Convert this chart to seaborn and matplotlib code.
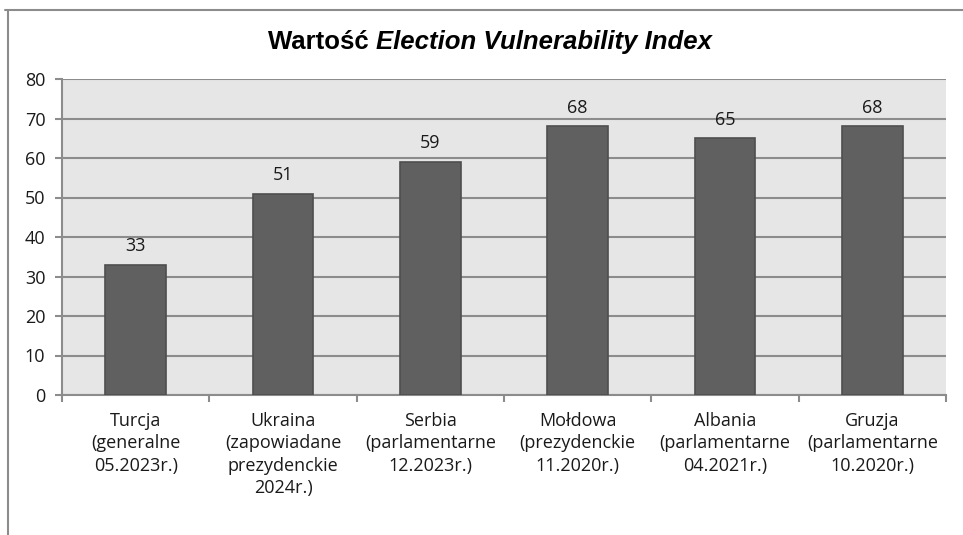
import matplotlib
matplotlib.use('Agg')
import matplotlib.pyplot as plt
import seaborn as sns
import pandas as pd
from matplotlib.lines import Line2D
from matplotlib.ticker import FixedLocator

# dane z wykresu
countries = ['Turcja\n(generalne\n05.2023r.)',
             'Ukraina\n(zapowiadane\nprezydenckie\n2024r.)',
             'Serbia\n(parlamentarne\n12.2023r.)',
             'Mołdowa\n(prezydenckie\n11.2020r.)',
             'Albania\n(parlamentarne\n04.2021r.)',
             'Gruzja\n(parlamentarne\n10.2020r.)']
evi_values = [33, 51, 59, 68, 65, 68]
y_ticks = [0, 10, 20, 30, 40, 50, 60, 70, 80]

df = pd.DataFrame({'kraj': countries, 'evi': evi_values})

sns.set_style('white')
plt.rcParams['font.family'] = ['Open Sans', 'DejaVu Sans']

fig = plt.figure(figsize=(9.63, 5.35), dpi=100)
ax = fig.add_axes([62 / 963, 1 - 395 / 535, (946 - 62) / 963, (395 - 79) / 535])
ax.set_facecolor('#e6e6e6')

sns.barplot(data=df, x='kraj', y='evi', color='#606060', edgecolor='#4e4e4e',
            linewidth=1.2, width=0.41, saturation=1, ax=ax, zorder=3)

ax.set_ylim(0, 80)
ax.set_xlim(-0.5, len(countries) - 0.5)
ax.set_yticks(y_ticks)
ax.yaxis.grid(True, color='#8c8c8c', linewidth=1.5, zorder=1)
ax.set_axisbelow(True)

# etykiety pod słupkami, kreski na granicach kategorii
ax.xaxis.set_major_locator(FixedLocator([i - 0.5 for i in range(len(countries) + 1)]))
ax.xaxis.set_minor_locator(FixedLocator(list(range(len(countries)))))
ax.set_xticklabels([''] * (len(countries) + 1))
ax.set_xticklabels(countries, minor=True, fontsize=13, color='#1a1a1a', linespacing=1.32)
ax.tick_params(axis='x', which='major', direction='out', length=5, width=1.5,
               color='#8c8c8c', bottom=True)
ax.tick_params(axis='x', which='minor', length=0, pad=12)
ax.tick_params(axis='y', direction='out', length=5, width=1.5, color='#8c8c8c',
               left=True, labelsize=13, labelcolor='#1a1a1a', pad=7)

for s in ['top', 'right']:
    ax.spines[s].set_visible(False)
for s in ['left', 'bottom']:
    ax.spines[s].set_color('#8c8c8c')
    ax.spines[s].set_linewidth(1.5)

ax.set_xlabel('')
ax.set_ylabel('')

for c in ax.containers:
    ax.bar_label(c, padding=7, fontsize=13, color='#1a1a1a')

# tytuł: część pogrubiona + pogrubiona kursywa
t1 = fig.text(0, 1 - 42 / 535, 'Wartość ', fontsize=18.5, fontweight='bold',
              family='Liberation Sans', va='center', ha='left', color='black')
t2 = fig.text(0, 1 - 42 / 535, 'Election Vulnerability Index', fontsize=18.5,
              fontweight='bold', style='italic', family='Liberation Sans',
              va='center', ha='left', color='black')
fig.canvas.draw()
r = fig.canvas.get_renderer()
w1 = t1.get_window_extent(r).width
w2 = t2.get_window_extent(r).width
x0 = 490 - (w1 + w2) / 2
t1.set_x(x0 / 963)
t2.set_x((x0 + w1) / 963)

# ramka wykresu (lewa i górna krawędź)
fig.add_artist(Line2D([8 / 963, 8 / 963], [0, 1 - 10 / 535], color='#8c8c8c',
                      linewidth=1.5, transform=fig.transFigure))
fig.add_artist(Line2D([5 / 963, 1], [1 - 10 / 535, 1 - 10 / 535], color='#8c8c8c',
                      linewidth=1.5, transform=fig.transFigure))

fig.savefig('out.png', dpi=100)
